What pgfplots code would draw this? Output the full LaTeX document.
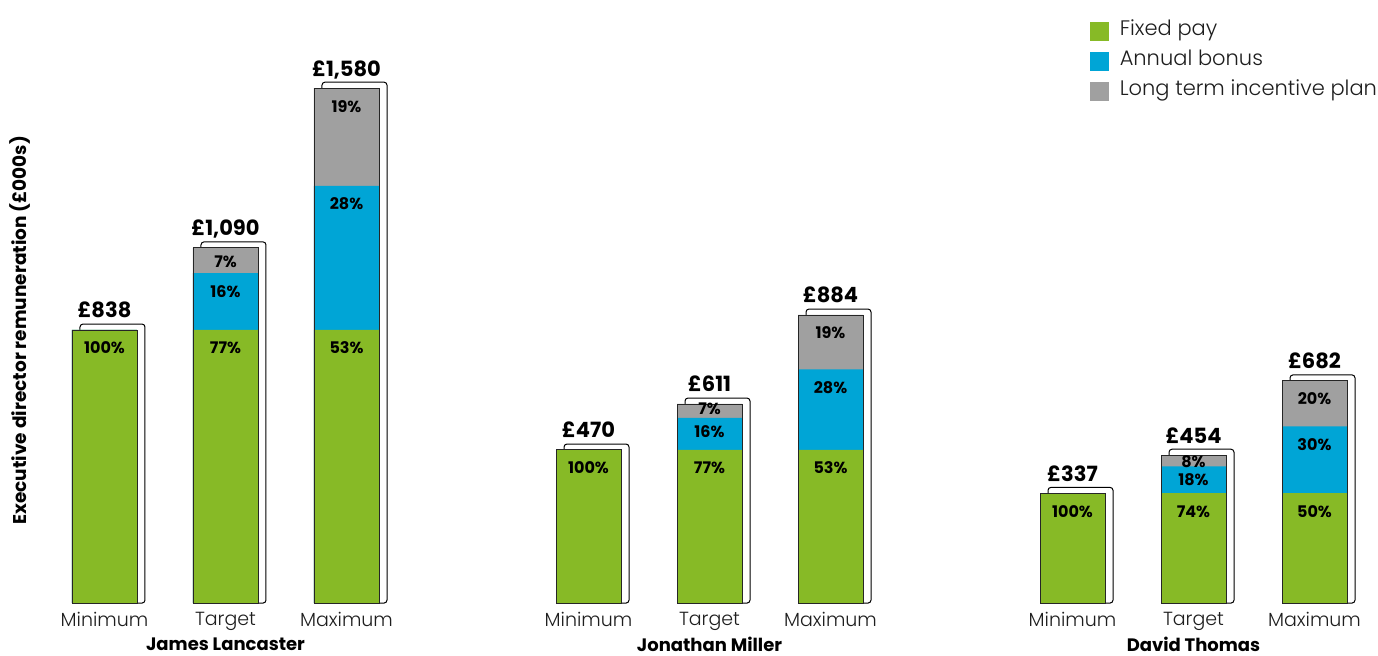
\documentclass[border=0pt]{standalone}
\usepackage{fontspec}
\setmainfont{Poppins}
\newfontfamily\lightfont{Poppins Light}
\usepackage{pgfplots}
\pgfplotsset{compat=1.18}
\usepackage{pgfplotstable}
\definecolor{fixg}{HTML}{87BA26}
\definecolor{bonb}{HTML}{00A5D6}
\definecolor{ltig}{HTML}{A0A0A0}
\definecolor{tickc}{HTML}{1E1E1E}
\pgfplotstableread{
x fixed bonus ltip
0 838 0 0
1 838 174 78
2 838 442 300
4 470 0 0
5 470 98 43
6 470 247 167
8 337 0 0
9 337 82 35
10 337 205 140
}\paydata
\newcommand{\tot}[3]{\node[font=\bfseries\fontsize{21}{21}\selectfont, anchor=base] at (axis cs:#1,#2) [yshift=12pt] {#3};}
\newcommand{\pct}[4]{\node[font=\bfseries\fontsize{16}{16}\selectfont, anchor=base] at (axis cs:#1,#2) [yshift=#3] {#4};}
\begin{document}
\begin{tikzpicture}
\begin{axis}[
  width=1378pt, height=603pt, scale only axis,
  xmin=-0.8636, xmax=10.5248, ymin=0, ymax=1849.7,
  axis line style={draw=none},
  major tick length=0pt,
  ytick=\empty,
  xtick={0,1,2,4,5,6,8,9,10},
  xticklabels={Minimum,Target,Maximum,Minimum,Target,Maximum,Minimum,Target,Maximum},
  xticklabel style={font=\lightfont\fontsize{19}{19}\selectfont, text=tickc, anchor=north, inner sep=0pt, yshift=-9pt},
  ybar, bar width=65pt,
  clip=false,
  legend cell align=left,
  legend image code/.code={\fill[#1] (0pt,-9pt) rectangle (18pt,9pt); \path (29pt,0pt);},
  legend style={at={(rel axis cs:0.7911,0.966)}, anchor=north west, draw=none, fill=none,
    font=\lightfont\fontsize{21}{21}\selectfont, row sep=10pt, inner sep=0pt,
    nodes={inner sep=0pt, text height=15pt, text depth=5pt, text=tickc}},
]
% shadow boxes
\addplot[fill=white, draw=black, line width=1pt, bar shift=8pt, rounded corners=3pt, forget plot]
  table[x=x, y expr=\thisrow{fixed}+\thisrow{bonus}+\thisrow{ltip}+18] {\paydata};
% stacked segments (cumulative)
\addplot[fill=ltig, draw=none, bar shift=0pt, forget plot]
  table[x=x, y expr=\thisrow{fixed}+\thisrow{bonus}+\thisrow{ltip}] {\paydata};
\addplot[fill=bonb, draw=none, bar shift=0pt, forget plot]
  table[x=x, y expr=\thisrow{fixed}+\thisrow{bonus}] {\paydata};
\addplot[fill=fixg, draw=none, bar shift=0pt, forget plot]
  table[x=x, y=fixed] {\paydata};
% outline
\addplot[fill=none, draw=black!85, line width=0.8pt, bar shift=0pt, forget plot]
  table[x=x, y expr=\thisrow{fixed}+\thisrow{bonus}+\thisrow{ltip}] {\paydata};
\addlegendimage{fixg}
\addlegendentry{Fixed pay}
\addlegendimage{bonb}
\addlegendentry{Annual bonus}
\addlegendimage{ltig}
\addlegendentry{Long term incentive plan}
% totals
\tot{0}{838}{£838}
\tot{1}{1090}{£1,090}
\tot{2}{1580}{£1,580}
\tot{4}{470}{£470}
\tot{5}{611}{£611}
\tot{6}{884}{£884}
\tot{8}{337}{£337}
\tot{9}{454}{£454}
\tot{10}{682}{£682}
% percentages
\pct{0}{838}{-24pt}{100\%}
\pct{1}{838}{-24pt}{77\%}
\pct{1}{1012}{-24pt}{16\%}
\pct{1}{1090}{-20pt}{7\%}
\pct{2}{838}{-24pt}{53\%}
\pct{2}{1280}{-24pt}{28\%}
\pct{2}{1580}{-24pt}{19\%}
\pct{4}{470}{-24pt}{100\%}
\pct{5}{470}{-24pt}{77\%}
\pct{5}{568}{-20pt}{16\%}
\pct{5}{611}{-11pt}{7\%}
\pct{6}{470}{-24pt}{53\%}
\pct{6}{717}{-24pt}{28\%}
\pct{6}{884}{-24pt}{19\%}
\pct{8}{337}{-24pt}{100\%}
\pct{9}{337}{-24pt}{74\%}
\pct{9}{419}{-19pt}{18\%}
\pct{9}{454}{-12pt}{8\%}
\pct{10}{337}{-24pt}{50\%}
\pct{10}{542}{-24pt}{30\%}
\pct{10}{682}{-24pt}{20\%}
% group names
\node[font=\bfseries\fontsize{18}{18}\selectfont, anchor=center] at (axis cs:1,0) [yshift=-41pt] {James Lancaster};
\node[font=\bfseries\fontsize{18}{18}\selectfont, anchor=center] at (axis cs:5,0) [yshift=-41pt] {Jonathan Miller};
\node[font=\bfseries\fontsize{18}{18}\selectfont, anchor=center] at (axis cs:9,0) [yshift=-41pt] {David Thomas};
% y label
\node[font=\bfseries\fontsize{18.5}{18.5}\selectfont, rotate=90, anchor=center] at (axis cs:-0.698,837) {Executive director remuneration (£000s)};
\end{axis}
\path (0pt,-52pt) rectangle (1378pt,603pt);
\end{tikzpicture}
\end{document}
